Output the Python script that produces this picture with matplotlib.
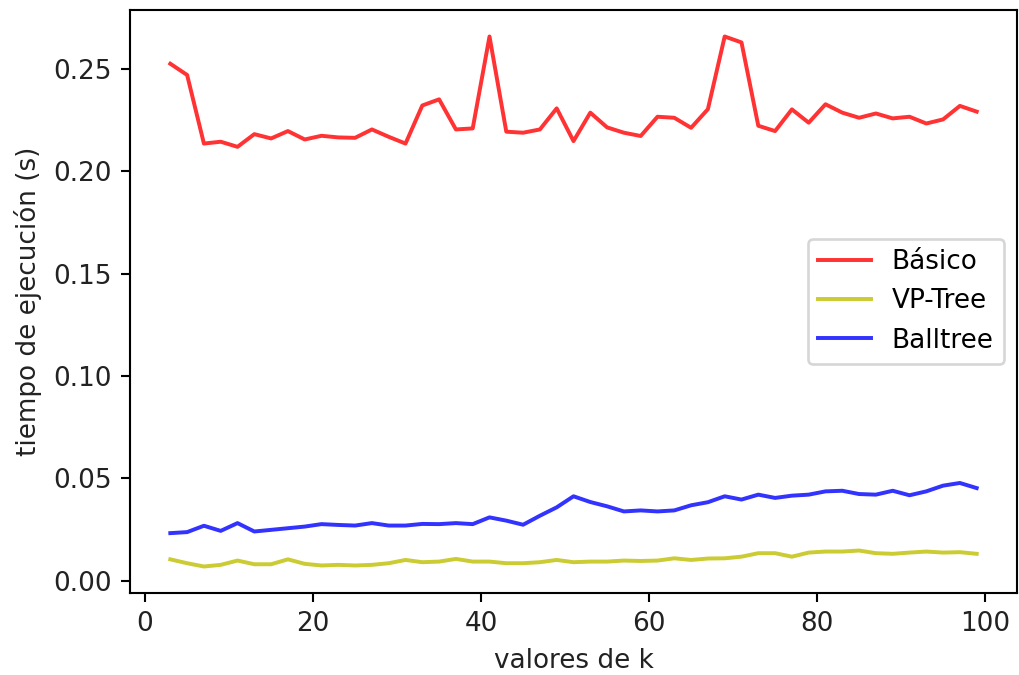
import numpy as np
import matplotlib
matplotlib.use('Agg')
import matplotlib.pyplot as plt

k = list(range(3, 100, 2))

basico = [0.2525, 0.2470, 0.2135, 0.2144, 0.2119, 0.2181, 0.2160, 0.2196, 0.2155,
          0.2173, 0.2165, 0.2163, 0.2204, 0.2168, 0.2135, 0.2321, 0.2351, 0.2204,
          0.2209, 0.2658, 0.2193, 0.2188, 0.2204, 0.2307, 0.2147, 0.2286, 0.2214,
          0.2188, 0.2172, 0.2266, 0.2261, 0.2212, 0.2303, 0.2658, 0.2629, 0.2222,
          0.2196, 0.2302, 0.2237, 0.2327, 0.2286, 0.2261, 0.2282, 0.2258, 0.2266,
          0.2233, 0.2253, 0.2319, 0.2291]

vptree = [0.0104, 0.0085, 0.0069, 0.0077, 0.0098, 0.0080, 0.0080, 0.0104, 0.0082,
          0.0074, 0.0077, 0.0074, 0.0077, 0.0085, 0.0101, 0.0090, 0.0093, 0.0106,
          0.0093, 0.0093, 0.0085, 0.0085, 0.0090, 0.0101, 0.0090, 0.0093, 0.0093,
          0.0098, 0.0096, 0.0098, 0.0109, 0.0101, 0.0108, 0.0109, 0.0117, 0.0134,
          0.0134, 0.0117, 0.0137, 0.0142, 0.0142, 0.0147, 0.0134, 0.0131, 0.0137,
          0.0142, 0.0137, 0.0139, 0.0131]

balltree = [0.0232, 0.0237, 0.0268, 0.0243, 0.0281, 0.0240, 0.0248, 0.0256, 0.0264,
            0.0276, 0.0272, 0.0269, 0.0281, 0.0269, 0.0269, 0.0277, 0.0276, 0.0281,
            0.0276, 0.0309, 0.0293, 0.0273, 0.0317, 0.0358, 0.0412, 0.0384, 0.0363,
            0.0338, 0.0343, 0.0338, 0.0343, 0.0368, 0.0383, 0.0412, 0.0396, 0.0420,
            0.0404, 0.0415, 0.0420, 0.0436, 0.0439, 0.0423, 0.0420, 0.0439, 0.0417,
            0.0436, 0.0464, 0.0477, 0.0452]

dpi = 189
fig = plt.figure(figsize=(1019 / dpi, 675 / dpi), dpi=dpi)
ax = fig.add_axes([130 / 1019, 82 / 675, 887 / 1019, 583 / 675])

ax.plot(k, basico, color='r', alpha=0.8, label='Básico')
ax.plot(k, vptree, color='y', alpha=0.8, label='VP-Tree')
ax.plot(k, balltree, color='b', alpha=0.8, label='Balltree')

ax.set_xlabel('valores de k', color='#222222')
ax.set_ylabel('tiempo de ejecución (s)', color='#222222')
ax.tick_params(labelcolor='#222222')
ax.legend(loc='center right')

fig.savefig('out.png', dpi=dpi)
